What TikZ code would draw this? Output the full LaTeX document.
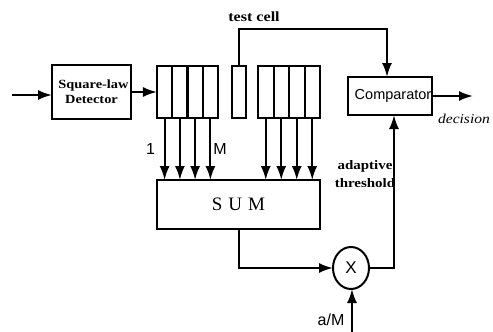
\documentclass[tikz,border=0pt]{standalone}
\usepackage{fontspec}
\setmainfont{Liberation Serif}
\setsansfont{Liberation Sans}
\newfontfamily\labfont[FakeStretch=1.15]{Liberation Serif}
\usetikzlibrary{arrows.meta,shapes.geometric}
\begin{document}
\begin{tikzpicture}[x=1pt,y=-1pt,
  box/.style={draw,line width=2pt,inner sep=0pt,outer sep=0pt},
  cellbox/.style={box,minimum width=#1,minimum height=52pt},
  arr/.style={line width=2pt,-{Latex[length=14pt,width=10pt]}},
  serlab/.style={inner sep=0pt,font=\labfont\bfseries\fontsize{13}{15}\selectfont},
  sanslab/.style={inner sep=0pt,font=\sffamily\fontsize{16}{18}\selectfont}]
\fill[white] (0,0) rectangle (493,332);
\useasboundingbox (0,0) rectangle (493,332);
% blocks
\node[box,minimum width=79pt,minimum height=54pt,align=center,
      font=\labfont\bfseries\fontsize{12.5}{15}\selectfont] (sq) at (91.5,92) {\hspace{4pt}Square-law\\Detector};
\node[cellbox=15.25pt] (c1) at (164.6,92) {};
\node[cellbox=15.25pt] (c2) at (179.9,92) {};
\node[cellbox=15.25pt] (c3) at (195.1,92) {};
\node[cellbox=15.25pt] (c4) at (210.4,92) {};
\node[cellbox=14pt] (tc) at (239,92) {};
\node[cellbox=15.5pt] (r1) at (265.75,92) {};
\node[cellbox=15.5pt] (r2) at (281.25,92) {};
\node[cellbox=15.5pt] (r3) at (296.75,92) {};
\node[cellbox=15.5pt] (r4) at (312.25,92) {};
\node[box,minimum width=163pt,minimum height=49pt,
      font=\rmfamily\fontsize{19}{21}\selectfont] (sum) at (238.5,204.5) {S\hspace{6pt}U\hspace{6pt}M};
\node[box,minimum width=84pt,minimum height=38pt,
      font=\sffamily\fontsize{14.5}{16}\selectfont] (cmp) at (390,96) {\hspace{6pt}Comparator};
\node[box,ellipse,minimum width=36pt,minimum height=42pt,
      font=\sffamily\fontsize{17}{18}\selectfont] (mul) at (351,268) {X};
% labels
\node[serlab,font=\labfont\bfseries\fontsize{14}{15}\selectfont] (tclab) at (254,17) {test cell};
\node[sanslab] (one) at (150.5,149) {1};
\node[sanslab] (em) at (220,149) {M};
\node[serlab] (adap) at (365,166) {adaptive};
\node[serlab] (thrlab) at (365,183) {threshold};
\node[inner sep=0pt,font=\labfont\itshape\fontsize{13.5}{15}\selectfont] (dec) at (464,119) {decision};
\node[sanslab] (am) at (331,320) {a/M};
% connector end points
\coordinate (inp) at (12,95);
\coordinate (tcturn) at (387,29);
\coordinate (thrturn) at (394,268);
\coordinate (out) at (473,96);
\coordinate (amin) at (352,332);
% connectors
\draw[arr] (inp) -- (inp -| sq.west);
\draw[arr] (sq.east) -- (c1.west);
\foreach \c in {c1,c2,c3,c4,r1,r2,r3,r4}
  \draw[arr] (\c.south) -- (\c.south |- sum.north);
\draw[arr] (tc.north) |- (tcturn) -- (tcturn |- cmp.north);
\draw[arr] (cmp.east) -- (out);
\draw[arr] (sum.south) |- (mul.west);
\draw[arr] (mul.east) -- (thrturn) -- (thrturn |- cmp.south);
\draw[arr] (amin) -- (amin |- mul.south);
\end{tikzpicture}
\end{document}
